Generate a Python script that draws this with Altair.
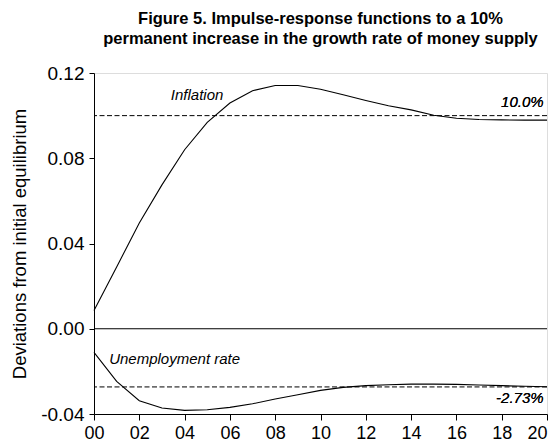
import altair as alt
import pandas as pd

years = list(range(21))
inflation = [0.0086, 0.0290, 0.0496, 0.0675, 0.0840, 0.0968, 0.1059, 0.1117, 0.1141, 0.1141,
             0.1124, 0.1098, 0.1071, 0.1046, 0.1027, 0.1002, 0.0988, 0.0982, 0.0980, 0.0979, 0.0979]
unemployment = [-0.0111, -0.0247, -0.0338, -0.0372, -0.0383, -0.0380, -0.0369, -0.0352, -0.0330, -0.0310,
                -0.0289, -0.0275, -0.0267, -0.0263, -0.0260, -0.0260, -0.0261, -0.0264, -0.0267, -0.0270, -0.0272]
ref_levels = [0.100, -0.0273]
y_ticks = [-0.04, 0.0, 0.04, 0.08, 0.12]

ann_text = ["Inflation", "10.0%", "Unemployment rate", "-2.73%"]
ann_x = [4.55, 19.85, 0.67, 19.85]
ann_y = [0.1074, 0.1041, -0.0164, -0.0349]
ann_align = ["center", "right", "left", "right"]

FONT = "Liberation Sans"

df = pd.DataFrame({
    "year": years * 2,
    "value": inflation + unemployment,
    "series": ["Inflation"] * len(years) + ["Unemployment rate"] * len(years),
})
refs = pd.DataFrame({"value": ref_levels})
zero = pd.DataFrame({"value": [0.0]})
ann = pd.DataFrame({"x": ann_x, "y": ann_y, "text": ann_text, "align": ann_align})

xscale = alt.Scale(domain=[0, 20], nice=False, zero=False)
yscale = alt.Scale(domain=[-0.04, 0.12], nice=False)

x_enc = alt.X("year:Q", scale=xscale, axis=alt.Axis(
    values=years, title=None, grid=False, tickSize=6, labelFontSize=18, labelFont=FONT,
    labelColor="black", tickColor="black", domainColor="black", labelFlush=False,
    labelOverlap=False, labelPadding=4,
    labelAlign={"condition": {"test": "datum.value == 20", "value": "right"}, "value": "center"},
    labelExpr="datum.value % 2 == 0 ? (datum.value < 10 ? '0' + datum.value : '' + datum.value) : ''"))
y_enc = alt.Y("value:Q", scale=yscale, axis=alt.Axis(
    values=y_ticks, title="Deviations from initial equilibrium", grid=False, tickSize=5,
    labelFontSize=19, labelFont=FONT, labelColor="black", tickColor="black", domainColor="black",
    labelPadding=5, labelFlush=False, labelOverlap=False,
    labelExpr="replace(format(datum.value, '.2f'), '\u2212', '-')",
    titleFontSize=18.5, titleFont=FONT, titleFontWeight="normal", titleColor="black", titlePadding=11))

lines = alt.Chart(df).mark_line(color="black", strokeWidth=1.1).encode(
    x=x_enc, y=y_enc, detail="series:N")

dashed = alt.Chart(refs).mark_rule(color="black", strokeWidth=1, strokeDash=[5, 2.5]).encode(
    y=alt.Y("value:Q", scale=yscale))

zero_line = alt.Chart(zero).mark_rule(color="black", strokeWidth=1.2).encode(
    y=alt.Y("value:Q", scale=yscale))

texts = []
for a in ann_align:
    texts.append(
        alt.Chart(ann[ann["align"] == a]).mark_text(
            font=FONT, fontSize=15, fontStyle="italic", color="black", align=a, baseline="alphabetic"
        ).encode(x=alt.X("x:Q", scale=xscale), y=alt.Y("y:Q", scale=yscale), text="text:N")
    )

chart = alt.layer(lines, dashed, zero_line, *texts).properties(
    width=453, height=341,
    autosize=alt.AutoSizeParams(type="none"),
    padding={"left": 86, "top": 65, "right": 1, "bottom": 33},
    title=alt.TitleParams(
        ["Figure 5. Impulse-response functions to a 10%",
         "permanent increase in the growth rate of money supply"],
        fontSize=16.5, fontWeight="bold", font=FONT, color="black", anchor="middle",
        lineHeight=20, offset=17),
).configure_view(stroke="black", strokeWidth=1.2).configure(background="white")

chart.save("out.html", embed_options={"renderer": "svg", "actions": False})
